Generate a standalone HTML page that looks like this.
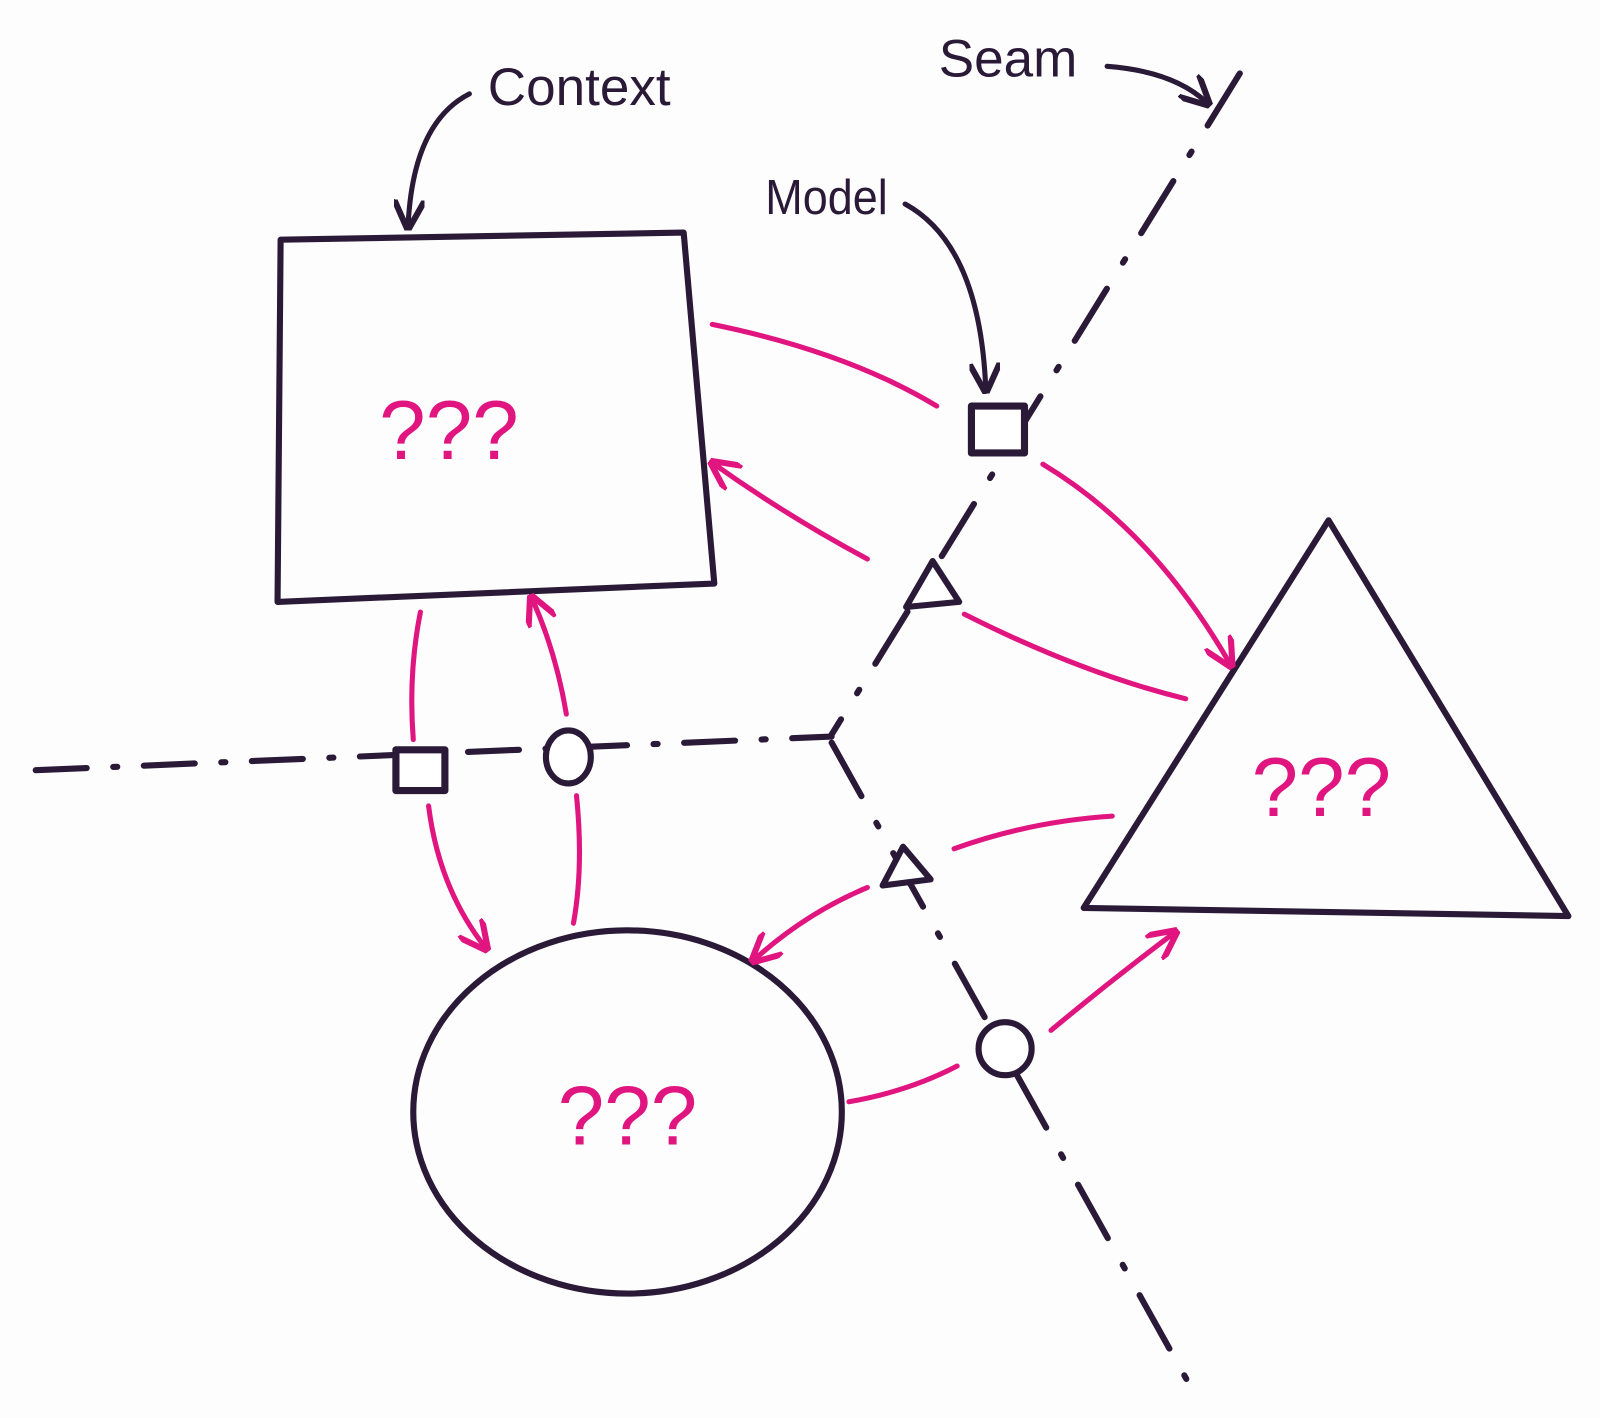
<!DOCTYPE html>
<html><head><meta charset="utf-8"><style>html,body{margin:0;padding:0;background:#fff}svg{display:block}</style></head>
<body>
<svg width="1600" height="1418" viewBox="0 0 1568 1390" preserveAspectRatio="none" xmlns="http://www.w3.org/2000/svg">
<defs>
<marker id="mp" viewBox="0 0 10 10" refX="8" refY="5" markerWidth="6" markerHeight="6" orient="auto-start-reverse" markerUnits="strokeWidth"><path d="M0,0 L10,5 L0,10" fill="none" stroke="#e0157f" stroke-width="2"/></marker>
<marker id="mk" viewBox="0 0 10 10" refX="8" refY="5" markerWidth="6" markerHeight="6" orient="auto" markerUnits="strokeWidth"><path d="M0,0 L10,5 L0,10" fill="none" stroke="#2a1a38" stroke-width="2"/></marker>
</defs>
<rect width="1568" height="1390" fill="#fdfdfd"/>
<g fill="none" stroke="#2a1a38" stroke-width="6" stroke-linecap="round" stroke-linejoin="round">
<path d="M1215,72 L815,720" stroke-dasharray="60 30 4 30"/>
<path d="M815,728 L1170,1365" stroke-dasharray="60 30 4 30"/>
<path d="M35,755 L815,722" stroke-dasharray="50 26 4 26"/>
<path d="M275,235 L670,228 L700,572 L272,590 Z"/>
<path d="M1302,510 L1537,898 L1062,890 Z"/>
<ellipse cx="615" cy="1090" rx="210" ry="178"/>
<rect x="952" y="398" width="52" height="46" fill="#fff" stroke-width="7"/>
<rect x="388" y="735" width="48" height="40" fill="#fff" stroke-width="7"/>
<ellipse cx="557" cy="742" rx="22" ry="26" fill="#fff"/>
<circle cx="985" cy="1028" r="26" fill="#fff"/>
<path d="M888,595 L914,550 L940,590 Z" fill="#fff"/>
<path d="M865,868 L885,830 L912,862 Z" fill="#fff"/>
<path d="M460,92 Q405,120 400,220" marker-end="url(#mk)" stroke-width="5"/>
<path d="M1085,65 Q1150,70 1182,100" marker-end="url(#mk)" stroke-width="5"/>
<path d="M887,200 Q960,240 966,380" marker-end="url(#mk)" stroke-width="5"/>
</g>
<g fill="none" stroke="#e0157f" stroke-width="5" stroke-linecap="round">
<path d="M698,318 Q830,345 918,398"/>
<path d="M1022,455 Q1130,520 1205,650" marker-end="url(#mp)"/>
<path d="M850,548 Q770,505 700,455" marker-end="url(#mp)"/>
<path d="M945,602 Q1060,660 1162,685"/>
<path d="M412,600 Q400,660 405,725"/>
<path d="M555,700 Q545,640 522,588" marker-end="url(#mp)"/>
<path d="M420,790 Q430,870 475,928" marker-end="url(#mp)"/>
<path d="M565,780 Q572,850 562,905"/>
<path d="M1090,800 Q1010,805 935,832"/>
<path d="M850,870 Q790,895 740,940" marker-end="url(#mp)"/>
<path d="M832,1080 Q890,1070 938,1045"/>
<path d="M1030,1010 Q1090,960 1150,915" marker-end="url(#mp)"/>
</g>
<g font-family="Liberation Sans, sans-serif" fill="#2a1a38">
<text x="478" y="103" font-size="52">Context</text>
<text x="920" y="75" font-size="52">Seam</text>
<text x="750" y="210" font-size="48" textLength="120" lengthAdjust="spacingAndGlyphs">Model</text>
</g>
<g font-family="Liberation Sans, sans-serif" fill="#e0157f" font-size="82" text-anchor="middle">
<text x="440" y="450">???</text>
<text x="1295" y="800">???</text>
<text x="615" y="1122">???</text>
</g>
</svg>
</body></html>
